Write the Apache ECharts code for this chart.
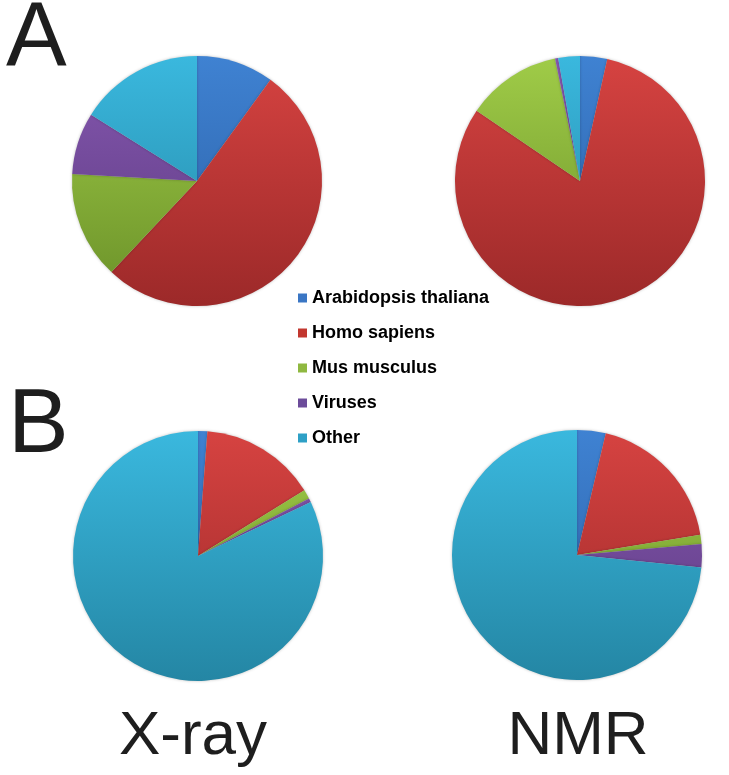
<!DOCTYPE html>
<html>
<head>
<meta charset="utf-8">
<script src="https://cdn.jsdelivr.net/npm/echarts@6/dist/echarts.min.js"></script>
<style>
  html, body { margin: 0; padding: 0; background: #fff; }
  #main { width: 729px; height: 775px; }
</style>
</head>
<body>
<div id="main"></div>
<script>
// species (legend order)
var species = ['Arabidopsis thaliana', 'Homo sapiens', 'Mus musculus', 'Viruses', 'Other'];

// percentages
var xrayA = [10, 52, 13.9, 8, 16.1];
var nmrA  = [3.5, 81, 12.3, 0.4, 2.8];
var xrayB = [1.2, 15, 1.2, 0.5, 82.1];
var nmrB  = [3.7, 18.7, 1.2, 3, 73.4];

var panelLetters = ['A', 'B'];
var methodNames = ['X-ray', 'NMR'];

// light (top) / dark (bottom) shade of each slice colour
var lightCols = ['#3f82d2', '#d64341', '#a0cc48', '#8658b0', '#3ab8de'];
var darkCols  = ['#2a5ea3', '#9c2929', '#6a9028', '#5a397f', '#2486a4'];
var legendCols = ['#3a76c4', '#c2372f', '#8fb840', '#6c4c9a', '#2ea0c6'];

var R = 125;

function grad(i, cy) {
    return new echarts.graphic.LinearGradient(0, cy - R, 0, cy + R, [
        { offset: 0, color: lightCols[i] },
        { offset: 1, color: darkCols[i] }
    ], true);
}

function makePie(vals, cx, cy) {
    return {
        type: 'pie',
        radius: R,
        center: [cx, cy],
        startAngle: 90,
        clockwise: true,
        silent: true,
        label: { show: false },
        labelLine: { show: false },
        itemStyle: { borderWidth: 0, shadowBlur: 3, shadowColor: 'rgba(0,0,0,0.25)' },
        data: vals.map(function (v, i) {
            return { name: species[i], value: v, itemStyle: { color: grad(i, cy) } };
        })
    };
}

var chart = echarts.init(document.getElementById('main'));

var txtColor = '#1e1e1e';

chart.setOption({
    animation: false,
    backgroundColor: '#fff',
    legend: {
        orient: 'vertical',
        left: 293,
        top: 283,
        itemWidth: 9,
        itemHeight: 9,
        itemGap: 15,
        icon: 'rect',
        selectedMode: false,
        data: species.map(function (s, i) {
            return { name: s, itemStyle: { color: legendCols[i] } };
        }),
        textStyle: {
            fontFamily: 'Liberation Sans',
            fontWeight: 'bold',
            fontSize: 18,
            lineHeight: 20,
            color: '#000'
        }
    },
    graphic: [
        { type: 'text', left: 6, top: -6, style: { text: panelLetters[0], font: '91px "Liberation Sans"', fill: txtColor } },
        { type: 'text', left: 8, top: 381, style: { text: panelLetters[1], font: '91px "Liberation Sans"', fill: txtColor } },
        { type: 'text', x: 193, y: 737, style: { text: methodNames[0], font: '62px "Liberation Sans"', fill: txtColor, align: 'center', verticalAlign: 'middle' } },
        { type: 'text', x: 578, y: 737, style: { text: methodNames[1], font: '62px "Liberation Sans"', fill: txtColor, align: 'center', verticalAlign: 'middle' } }
    ],
    series: [
        makePie(xrayA, 197, 181),
        makePie(nmrA, 580, 181),
        makePie(xrayB, 198, 556),
        makePie(nmrB, 577, 555)
    ]
});
</script>
</body>
</html>
